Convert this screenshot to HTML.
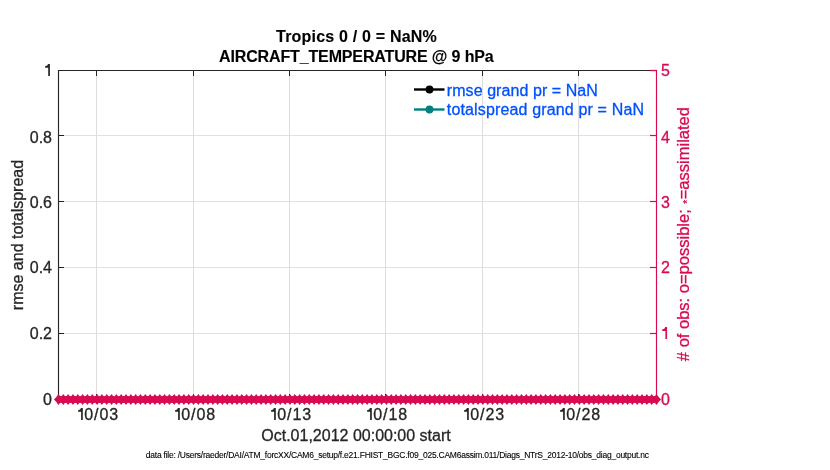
<!DOCTYPE html>
<html><head><meta charset="utf-8"><style>
html,body{margin:0;padding:0;background:#fff;width:830px;height:470px;overflow:hidden}
svg{display:block;will-change:transform}
</style></head><body>
<svg width="830" height="470" viewBox="0 0 830 470">
<rect width="830" height="470" fill="#fff"/>
<line x1="59.0" y1="333.5" x2="656.0" y2="333.5" stroke="#f6d4e0" stroke-width="1"/>
<line x1="59.0" y1="267.5" x2="656.0" y2="267.5" stroke="#f6d4e0" stroke-width="1"/>
<line x1="59.0" y1="201.5" x2="656.0" y2="201.5" stroke="#f6d4e0" stroke-width="1"/>
<line x1="59.0" y1="135.5" x2="656.0" y2="135.5" stroke="#f6d4e0" stroke-width="1"/>
<line x1="96.5" y1="71.0" x2="96.5" y2="399.0" stroke="#dedede" stroke-width="1"/>
<line x1="193.5" y1="71.0" x2="193.5" y2="399.0" stroke="#dedede" stroke-width="1"/>
<line x1="289.5" y1="71.0" x2="289.5" y2="399.0" stroke="#dedede" stroke-width="1"/>
<line x1="385.5" y1="71.0" x2="385.5" y2="399.0" stroke="#dedede" stroke-width="1"/>
<line x1="482.5" y1="71.0" x2="482.5" y2="399.0" stroke="#dedede" stroke-width="1"/>
<line x1="578.5" y1="71.0" x2="578.5" y2="399.0" stroke="#dedede" stroke-width="1"/>
<line x1="96.5" y1="70.0" x2="96.5" y2="76.0" stroke="#262626" stroke-width="1"/>
<line x1="96.5" y1="400.0" x2="96.5" y2="394.0" stroke="#262626" stroke-width="1"/>
<line x1="193.5" y1="70.0" x2="193.5" y2="76.0" stroke="#262626" stroke-width="1"/>
<line x1="193.5" y1="400.0" x2="193.5" y2="394.0" stroke="#262626" stroke-width="1"/>
<line x1="289.5" y1="70.0" x2="289.5" y2="76.0" stroke="#262626" stroke-width="1"/>
<line x1="289.5" y1="400.0" x2="289.5" y2="394.0" stroke="#262626" stroke-width="1"/>
<line x1="385.5" y1="70.0" x2="385.5" y2="76.0" stroke="#262626" stroke-width="1"/>
<line x1="385.5" y1="400.0" x2="385.5" y2="394.0" stroke="#262626" stroke-width="1"/>
<line x1="482.5" y1="70.0" x2="482.5" y2="76.0" stroke="#262626" stroke-width="1"/>
<line x1="482.5" y1="400.0" x2="482.5" y2="394.0" stroke="#262626" stroke-width="1"/>
<line x1="578.5" y1="70.0" x2="578.5" y2="76.0" stroke="#262626" stroke-width="1"/>
<line x1="578.5" y1="400.0" x2="578.5" y2="394.0" stroke="#262626" stroke-width="1"/>
<line x1="58.0" y1="399.5" x2="64.0" y2="399.5" stroke="#262626" stroke-width="1"/>
<line x1="58.0" y1="333.5" x2="64.0" y2="333.5" stroke="#3a1424" stroke-width="1"/>
<line x1="58.0" y1="267.5" x2="64.0" y2="267.5" stroke="#3a1424" stroke-width="1"/>
<line x1="58.0" y1="201.5" x2="64.0" y2="201.5" stroke="#3a1424" stroke-width="1"/>
<line x1="58.0" y1="135.5" x2="64.0" y2="135.5" stroke="#3a1424" stroke-width="1"/>
<line x1="58.0" y1="70.5" x2="64.0" y2="70.5" stroke="#262626" stroke-width="1"/>
<line x1="657.0" y1="399.5" x2="650.0" y2="399.5" stroke="#d70a53" stroke-width="1.2"/>
<line x1="657.0" y1="333.5" x2="650.0" y2="333.5" stroke="#d70a53" stroke-width="1.2"/>
<line x1="657.0" y1="267.5" x2="650.0" y2="267.5" stroke="#d70a53" stroke-width="1.2"/>
<line x1="657.0" y1="201.5" x2="650.0" y2="201.5" stroke="#d70a53" stroke-width="1.2"/>
<line x1="657.0" y1="135.5" x2="650.0" y2="135.5" stroke="#d70a53" stroke-width="1.2"/>
<line x1="657.0" y1="70.5" x2="650.0" y2="70.5" stroke="#d70a53" stroke-width="1.2"/>
<line x1="58.5" y1="70.0" x2="58.5" y2="400.0" stroke="#262626" stroke-width="1.15"/>
<line x1="58.0" y1="70.5" x2="650.0" y2="70.5" stroke="#262626" stroke-width="1.15"/>
<line x1="650.0" y1="70.5" x2="657.0" y2="70.5" stroke="#d70a53" stroke-width="1.15"/>
<line x1="58.0" y1="399.5" x2="656.0" y2="399.5" stroke="#262626" stroke-width="1.15"/>
<line x1="656.5" y1="70.0" x2="656.5" y2="400.0" stroke="#d70a53" stroke-width="1.15"/>
<path d="M54.40 399.5L58.50 394.0L62.60 399.5L58.50 405.0ZM59.22 399.5L63.32 394.0L67.42 399.5L63.32 405.0ZM64.05 399.5L68.15 394.0L72.25 399.5L68.15 405.0ZM68.87 399.5L72.97 394.0L77.07 399.5L72.97 405.0ZM73.69 399.5L77.79 394.0L81.89 399.5L77.79 405.0ZM78.51 399.5L82.61 394.0L86.71 399.5L82.61 405.0ZM83.34 399.5L87.44 394.0L91.54 399.5L87.44 405.0ZM88.16 399.5L92.26 394.0L96.36 399.5L92.26 405.0ZM92.98 399.5L97.08 394.0L101.18 399.5L97.08 405.0ZM97.80 399.5L101.90 394.0L106.00 399.5L101.90 405.0ZM102.63 399.5L106.73 394.0L110.83 399.5L106.73 405.0ZM107.45 399.5L111.55 394.0L115.65 399.5L111.55 405.0ZM112.27 399.5L116.37 394.0L120.47 399.5L116.37 405.0ZM117.09 399.5L121.19 394.0L125.29 399.5L121.19 405.0ZM121.92 399.5L126.02 394.0L130.12 399.5L126.02 405.0ZM126.74 399.5L130.84 394.0L134.94 399.5L130.84 405.0ZM131.56 399.5L135.66 394.0L139.76 399.5L135.66 405.0ZM136.38 399.5L140.48 394.0L144.58 399.5L140.48 405.0ZM141.21 399.5L145.31 394.0L149.41 399.5L145.31 405.0ZM146.03 399.5L150.13 394.0L154.23 399.5L150.13 405.0ZM150.85 399.5L154.95 394.0L159.05 399.5L154.95 405.0ZM155.67 399.5L159.77 394.0L163.87 399.5L159.77 405.0ZM160.50 399.5L164.60 394.0L168.70 399.5L164.60 405.0ZM165.32 399.5L169.42 394.0L173.52 399.5L169.42 405.0ZM170.14 399.5L174.24 394.0L178.34 399.5L174.24 405.0ZM174.96 399.5L179.06 394.0L183.16 399.5L179.06 405.0ZM179.79 399.5L183.89 394.0L187.99 399.5L183.89 405.0ZM184.61 399.5L188.71 394.0L192.81 399.5L188.71 405.0ZM189.43 399.5L193.53 394.0L197.63 399.5L193.53 405.0ZM194.25 399.5L198.35 394.0L202.45 399.5L198.35 405.0ZM199.08 399.5L203.18 394.0L207.28 399.5L203.18 405.0ZM203.90 399.5L208.00 394.0L212.10 399.5L208.00 405.0ZM208.72 399.5L212.82 394.0L216.92 399.5L212.82 405.0ZM213.55 399.5L217.65 394.0L221.75 399.5L217.65 405.0ZM218.37 399.5L222.47 394.0L226.57 399.5L222.47 405.0ZM223.19 399.5L227.29 394.0L231.39 399.5L227.29 405.0ZM228.01 399.5L232.11 394.0L236.21 399.5L232.11 405.0ZM232.84 399.5L236.94 394.0L241.04 399.5L236.94 405.0ZM237.66 399.5L241.76 394.0L245.86 399.5L241.76 405.0ZM242.48 399.5L246.58 394.0L250.68 399.5L246.58 405.0ZM247.30 399.5L251.40 394.0L255.50 399.5L251.40 405.0ZM252.13 399.5L256.23 394.0L260.33 399.5L256.23 405.0ZM256.95 399.5L261.05 394.0L265.15 399.5L261.05 405.0ZM261.77 399.5L265.87 394.0L269.97 399.5L265.87 405.0ZM266.59 399.5L270.69 394.0L274.79 399.5L270.69 405.0ZM271.42 399.5L275.52 394.0L279.62 399.5L275.52 405.0ZM276.24 399.5L280.34 394.0L284.44 399.5L280.34 405.0ZM281.06 399.5L285.16 394.0L289.26 399.5L285.16 405.0ZM285.88 399.5L289.98 394.0L294.08 399.5L289.98 405.0ZM290.71 399.5L294.81 394.0L298.91 399.5L294.81 405.0ZM295.53 399.5L299.63 394.0L303.73 399.5L299.63 405.0ZM300.35 399.5L304.45 394.0L308.55 399.5L304.45 405.0ZM305.17 399.5L309.27 394.0L313.37 399.5L309.27 405.0ZM310.00 399.5L314.10 394.0L318.20 399.5L314.10 405.0ZM314.82 399.5L318.92 394.0L323.02 399.5L318.92 405.0ZM319.64 399.5L323.74 394.0L327.84 399.5L323.74 405.0ZM324.46 399.5L328.56 394.0L332.66 399.5L328.56 405.0ZM329.29 399.5L333.39 394.0L337.49 399.5L333.39 405.0ZM334.11 399.5L338.21 394.0L342.31 399.5L338.21 405.0ZM338.93 399.5L343.03 394.0L347.13 399.5L343.03 405.0ZM343.75 399.5L347.85 394.0L351.95 399.5L347.85 405.0ZM348.58 399.5L352.68 394.0L356.78 399.5L352.68 405.0ZM353.40 399.5L357.50 394.0L361.60 399.5L357.50 405.0ZM358.22 399.5L362.32 394.0L366.42 399.5L362.32 405.0ZM363.05 399.5L367.15 394.0L371.25 399.5L367.15 405.0ZM367.87 399.5L371.97 394.0L376.07 399.5L371.97 405.0ZM372.69 399.5L376.79 394.0L380.89 399.5L376.79 405.0ZM377.51 399.5L381.61 394.0L385.71 399.5L381.61 405.0ZM382.34 399.5L386.44 394.0L390.54 399.5L386.44 405.0ZM387.16 399.5L391.26 394.0L395.36 399.5L391.26 405.0ZM391.98 399.5L396.08 394.0L400.18 399.5L396.08 405.0ZM396.80 399.5L400.90 394.0L405.00 399.5L400.90 405.0ZM401.63 399.5L405.73 394.0L409.83 399.5L405.73 405.0ZM406.45 399.5L410.55 394.0L414.65 399.5L410.55 405.0ZM411.27 399.5L415.37 394.0L419.47 399.5L415.37 405.0ZM416.09 399.5L420.19 394.0L424.29 399.5L420.19 405.0ZM420.92 399.5L425.02 394.0L429.12 399.5L425.02 405.0ZM425.74 399.5L429.84 394.0L433.94 399.5L429.84 405.0ZM430.56 399.5L434.66 394.0L438.76 399.5L434.66 405.0ZM435.38 399.5L439.48 394.0L443.58 399.5L439.48 405.0ZM440.21 399.5L444.31 394.0L448.41 399.5L444.31 405.0ZM445.03 399.5L449.13 394.0L453.23 399.5L449.13 405.0ZM449.85 399.5L453.95 394.0L458.05 399.5L453.95 405.0ZM454.67 399.5L458.77 394.0L462.87 399.5L458.77 405.0ZM459.50 399.5L463.60 394.0L467.70 399.5L463.60 405.0ZM464.32 399.5L468.42 394.0L472.52 399.5L468.42 405.0ZM469.14 399.5L473.24 394.0L477.34 399.5L473.24 405.0ZM473.96 399.5L478.06 394.0L482.16 399.5L478.06 405.0ZM478.79 399.5L482.89 394.0L486.99 399.5L482.89 405.0ZM483.61 399.5L487.71 394.0L491.81 399.5L487.71 405.0ZM488.43 399.5L492.53 394.0L496.63 399.5L492.53 405.0ZM493.25 399.5L497.35 394.0L501.45 399.5L497.35 405.0ZM498.08 399.5L502.18 394.0L506.28 399.5L502.18 405.0ZM502.90 399.5L507.00 394.0L511.10 399.5L507.00 405.0ZM507.72 399.5L511.82 394.0L515.92 399.5L511.82 405.0ZM512.55 399.5L516.65 394.0L520.75 399.5L516.65 405.0ZM517.37 399.5L521.47 394.0L525.57 399.5L521.47 405.0ZM522.19 399.5L526.29 394.0L530.39 399.5L526.29 405.0ZM527.01 399.5L531.11 394.0L535.21 399.5L531.11 405.0ZM531.84 399.5L535.94 394.0L540.04 399.5L535.94 405.0ZM536.66 399.5L540.76 394.0L544.86 399.5L540.76 405.0ZM541.48 399.5L545.58 394.0L549.68 399.5L545.58 405.0ZM546.30 399.5L550.40 394.0L554.50 399.5L550.40 405.0ZM551.13 399.5L555.23 394.0L559.33 399.5L555.23 405.0ZM555.95 399.5L560.05 394.0L564.15 399.5L560.05 405.0ZM560.77 399.5L564.87 394.0L568.97 399.5L564.87 405.0ZM565.59 399.5L569.69 394.0L573.79 399.5L569.69 405.0ZM570.42 399.5L574.52 394.0L578.62 399.5L574.52 405.0ZM575.24 399.5L579.34 394.0L583.44 399.5L579.34 405.0ZM580.06 399.5L584.16 394.0L588.26 399.5L584.16 405.0ZM584.88 399.5L588.98 394.0L593.08 399.5L588.98 405.0ZM589.71 399.5L593.81 394.0L597.91 399.5L593.81 405.0ZM594.53 399.5L598.63 394.0L602.73 399.5L598.63 405.0ZM599.35 399.5L603.45 394.0L607.55 399.5L603.45 405.0ZM604.17 399.5L608.27 394.0L612.37 399.5L608.27 405.0ZM609.00 399.5L613.10 394.0L617.20 399.5L613.10 405.0ZM613.82 399.5L617.92 394.0L622.02 399.5L617.92 405.0ZM618.64 399.5L622.74 394.0L626.84 399.5L622.74 405.0ZM623.46 399.5L627.56 394.0L631.66 399.5L627.56 405.0ZM628.29 399.5L632.39 394.0L636.49 399.5L632.39 405.0ZM633.11 399.5L637.21 394.0L641.31 399.5L637.21 405.0ZM637.93 399.5L642.03 394.0L646.13 399.5L642.03 405.0ZM642.75 399.5L646.85 394.0L650.95 399.5L646.85 405.0ZM647.58 399.5L651.68 394.0L655.78 399.5L651.68 405.0ZM652.40 399.5L656.50 394.0L660.60 399.5L656.50 405.0ZM53.90 399.5L58.50 394.9L63.10 399.5L58.50 404.1ZM651.90 399.5L656.50 394.9L661.10 399.5L656.50 404.1Z" fill="#d70a53"/>
<rect x="58.5" y="396.1" width="598.0" height="6.8" fill="#d70a53"/>
<text id="t1" x="356.4" y="41.8" font-family="Liberation Sans, sans-serif" font-size="16" font-weight="bold" text-anchor="middle" textLength="160.6" lengthAdjust="spacing" fill="#000" stroke="#000" stroke-width="0.12">Tropics 0 / 0 = NaN%</text>
<text id="t2" x="356.4" y="61.7" font-family="Liberation Sans, sans-serif" font-size="16" font-weight="bold" text-anchor="middle" textLength="274.7" lengthAdjust="spacing" fill="#000" stroke="#000" stroke-width="0.12">AIRCRAFT_TEMPERATURE @ 9 hPa</text>
<text x="52" y="405.3" font-family="Liberation Sans, sans-serif" font-size="16" text-anchor="end" fill="#262626" stroke="#262626" stroke-width="0.3">0</text>
<text x="52" y="339.45" font-family="Liberation Sans, sans-serif" font-size="16" text-anchor="end" fill="#262626" stroke="#262626" stroke-width="0.3">0.2</text>
<text x="52" y="273.45" font-family="Liberation Sans, sans-serif" font-size="16" text-anchor="end" fill="#262626" stroke="#262626" stroke-width="0.3">0.4</text>
<text x="52" y="208.4" font-family="Liberation Sans, sans-serif" font-size="16" text-anchor="end" fill="#262626" stroke="#262626" stroke-width="0.3">0.6</text>
<text x="52" y="142.6" font-family="Liberation Sans, sans-serif" font-size="16" text-anchor="end" fill="#262626" stroke="#262626" stroke-width="0.3">0.8</text>
<path d="M48.10 64.1L49.90 64.1L49.90 76L48.20 76L48.20 67.70L45.10 67.70L45.10 66.20Q47.80 66.10 48.10 64.1Z" fill="#262626"/>
<text x="661" y="405.3" font-family="Liberation Sans, sans-serif" font-size="16" text-anchor="start" fill="#d70a53" stroke="#d70a53" stroke-width="0.3">0</text>
<text x="661" y="273.45" font-family="Liberation Sans, sans-serif" font-size="16" text-anchor="start" fill="#d70a53" stroke="#d70a53" stroke-width="0.3">2</text>
<text x="661" y="208.4" font-family="Liberation Sans, sans-serif" font-size="16" text-anchor="start" fill="#d70a53" stroke="#d70a53" stroke-width="0.3">3</text>
<text x="661" y="142.6" font-family="Liberation Sans, sans-serif" font-size="16" text-anchor="start" fill="#d70a53" stroke="#d70a53" stroke-width="0.3">4</text>
<text x="661" y="76.3" font-family="Liberation Sans, sans-serif" font-size="16" text-anchor="start" fill="#d70a53" stroke="#d70a53" stroke-width="0.3">5</text>
<path d="M665.30 327.0L667.10 327.0L667.10 338.9L665.40 338.9L665.40 330.90L662.20 330.90L662.20 329.40Q665.00 329.30 665.30 327.0Z" fill="#d70a53"/>
<path d="M81.00 408.1L82.80 408.1L82.80 419.9L81.10 419.9L81.10 411.80L78.10 411.80L78.10 410.30Q80.70 410.20 81.00 408.1Z" fill="#262626"/>
<text x="84.2" y="420" font-family="Liberation Sans, sans-serif" font-size="16" textLength="34.0" lengthAdjust="spacing" fill="#262626" stroke="#262626" stroke-width="0.3">0/03</text>
<path d="M178.00 408.1L179.80 408.1L179.80 419.9L178.10 419.9L178.10 411.80L175.10 411.80L175.10 410.30Q177.70 410.20 178.00 408.1Z" fill="#262626"/>
<text x="181.2" y="420" font-family="Liberation Sans, sans-serif" font-size="16" textLength="34.0" lengthAdjust="spacing" fill="#262626" stroke="#262626" stroke-width="0.3">0/08</text>
<path d="M274.00 408.1L275.80 408.1L275.80 419.9L274.10 419.9L274.10 411.80L271.10 411.80L271.10 410.30Q273.70 410.20 274.00 408.1Z" fill="#262626"/>
<text x="277.2" y="420" font-family="Liberation Sans, sans-serif" font-size="16" textLength="34.0" lengthAdjust="spacing" fill="#262626" stroke="#262626" stroke-width="0.3">0/13</text>
<path d="M370.00 408.1L371.80 408.1L371.80 419.9L370.10 419.9L370.10 411.80L367.10 411.80L367.10 410.30Q369.70 410.20 370.00 408.1Z" fill="#262626"/>
<text x="373.2" y="420" font-family="Liberation Sans, sans-serif" font-size="16" textLength="34.0" lengthAdjust="spacing" fill="#262626" stroke="#262626" stroke-width="0.3">0/18</text>
<path d="M467.00 408.1L468.80 408.1L468.80 419.9L467.10 419.9L467.10 411.80L464.10 411.80L464.10 410.30Q466.70 410.20 467.00 408.1Z" fill="#262626"/>
<text x="470.2" y="420" font-family="Liberation Sans, sans-serif" font-size="16" textLength="34.0" lengthAdjust="spacing" fill="#262626" stroke="#262626" stroke-width="0.3">0/23</text>
<path d="M563.00 408.1L564.80 408.1L564.80 419.9L563.10 419.9L563.10 411.80L560.10 411.80L560.10 410.30Q562.70 410.20 563.00 408.1Z" fill="#262626"/>
<text x="566.2" y="420" font-family="Liberation Sans, sans-serif" font-size="16" textLength="34.0" lengthAdjust="spacing" fill="#262626" stroke="#262626" stroke-width="0.3">0/28</text>
<text id="xl" x="356" y="441" font-family="Liberation Sans, sans-serif" font-size="16" text-anchor="middle" fill="#262626" stroke="#262626" stroke-width="0.3">Oct.01,2012 00:00:00 start</text>
<text transform="translate(23.4 235) rotate(-90)" x="0" y="0" font-family="Liberation Sans, sans-serif" font-size="16" text-anchor="middle" fill="#262626" stroke="#262626" stroke-width="0.3">rmse and totalspread</text>
<text id="yr" transform="translate(688.9 234.1) rotate(-90)" x="0" y="0" font-family="Liberation Sans, sans-serif" font-size="16.5" text-anchor="middle" textLength="254.1" lengthAdjust="spacing" fill="#d70a53" stroke="#d70a53" stroke-width="0.3"># of obs: o=possible; <tspan font-size="10" dy="2.2" dx="1">*</tspan><tspan dy="-2.2" dx="0.5">=assimilated</tspan></text>
<text id="fn" x="397.4" y="457.8" font-family="Liberation Sans, sans-serif" font-size="8.5" textLength="503.1" lengthAdjust="spacing" text-anchor="middle" fill="#000" stroke="#000" stroke-width="0.1">data file: /Users/raeder/DAI/ATM_forcXX/CAM6_setup/f.e21.FHIST_BGC.f09_025.CAM6assim.011/Diags_NTrS_2012-10/obs_diag_output.nc</text>
<line x1="414" y1="89.5" x2="444.5" y2="89.5" stroke="#000" stroke-width="2.4"/>
<circle cx="429.5" cy="89.5" r="3.95" fill="#000"/>
<line x1="414" y1="109.5" x2="444.5" y2="109.5" stroke="#008080" stroke-width="2.4"/>
<circle cx="429.5" cy="109.5" r="3.95" fill="#008080"/>
<text id="lg1" x="446.8" y="95.8" font-family="Liberation Sans, sans-serif" font-size="16" textLength="151.1" lengthAdjust="spacing" fill="#0050ff" stroke="#0050ff" stroke-width="0.3">rmse grand pr = NaN</text>
<text id="lg2" x="446.8" y="115.3" font-family="Liberation Sans, sans-serif" font-size="16" textLength="197.2" lengthAdjust="spacing" fill="#0050ff" stroke="#0050ff" stroke-width="0.3">totalspread grand pr = NaN</text>
</svg>
</body></html>
